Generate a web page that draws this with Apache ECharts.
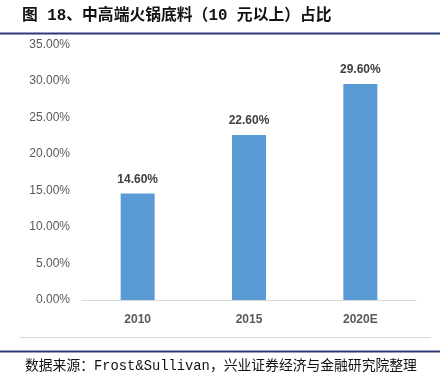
<!DOCTYPE html>
<html><head><meta charset="utf-8">
<script src="https://cdn.jsdelivr.net/npm/echarts@6/dist/echarts.min.js"></script>
<style>html,body{margin:0;padding:0;background:#fff}#c{width:444px;height:384px}</style>
</head><body><div id="c"></div>
<script>
const categories = ['2010', '2015', '2020E'];
const shareValues = [14.6, 22.6, 29.6];
const yTicks = [0, 5, 10, 15, 20, 25, 30, 35];
const titleText = '图 18、中高端火锅底料（10 元以上）占比';
const sourceText = '数据来源：Frost&Sullivan，兴业证券经济与金融研究院整理';

const chart = echarts.init(document.getElementById('c'), null, {renderer: 'canvas'});
chart.setOption({
  animation: false,
  backgroundColor: '#fff',
  graphic: [
    {type: 'text', left: 22, top: 8, style: {text: titleText, font: 'bold 15.8px "Liberation Mono","Noto Sans CJK SC"', fill: '#111'}},
    {type: 'line', shape: {x1: 0, y1: 33.5, x2: 440, y2: 33.5}, style: {stroke: '#2e3a78', lineWidth: 2}},
    {type: 'line', shape: {x1: 20, y1: 337.5, x2: 431, y2: 337.5}, style: {stroke: '#d9d9d9', lineWidth: 1}},
    {type: 'line', shape: {x1: 0, y1: 351.5, x2: 440, y2: 351.5}, style: {stroke: '#2e3a78', lineWidth: 2}},
    {type: 'text', left: 25, top: 359, style: {text: sourceText, font: '13.8px "Liberation Mono","Noto Sans CJK SC"', fill: '#111'}}
  ],
  grid: {left: 82, right: 28, top: 44.6, bottom: 84, containLabel: false},
  xAxis: {
    type: 'category', data: categories,
    axisLine: {lineStyle: {color: '#d9d9d9'}},
    axisTick: {show: false},
    axisLabel: {color: '#595959', fontWeight: 'bold', fontSize: 12, fontFamily: 'Liberation Sans', margin: 14}
  },
  yAxis: {
    type: 'value', min: yTicks[0], max: yTicks[yTicks.length - 1], interval: 5,
    splitLine: {show: false}, axisLine: {show: false}, axisTick: {show: false},
    axisLabel: {color: '#595959', fontSize: 12, fontFamily: 'Liberation Sans', margin: 12,
      formatter: v => v.toFixed(2) + '%'}
  },
  series: [{
    type: 'bar', data: shareValues, barWidth: 34,
    itemStyle: {color: '#5b9bd5'},
    label: {show: true, position: 'top', distance: 8, color: '#404040', fontWeight: 'bold', fontSize: 12,
      fontFamily: 'Liberation Sans', formatter: p => p.value.toFixed(2) + '%'}
  }]
});
</script></body></html>
